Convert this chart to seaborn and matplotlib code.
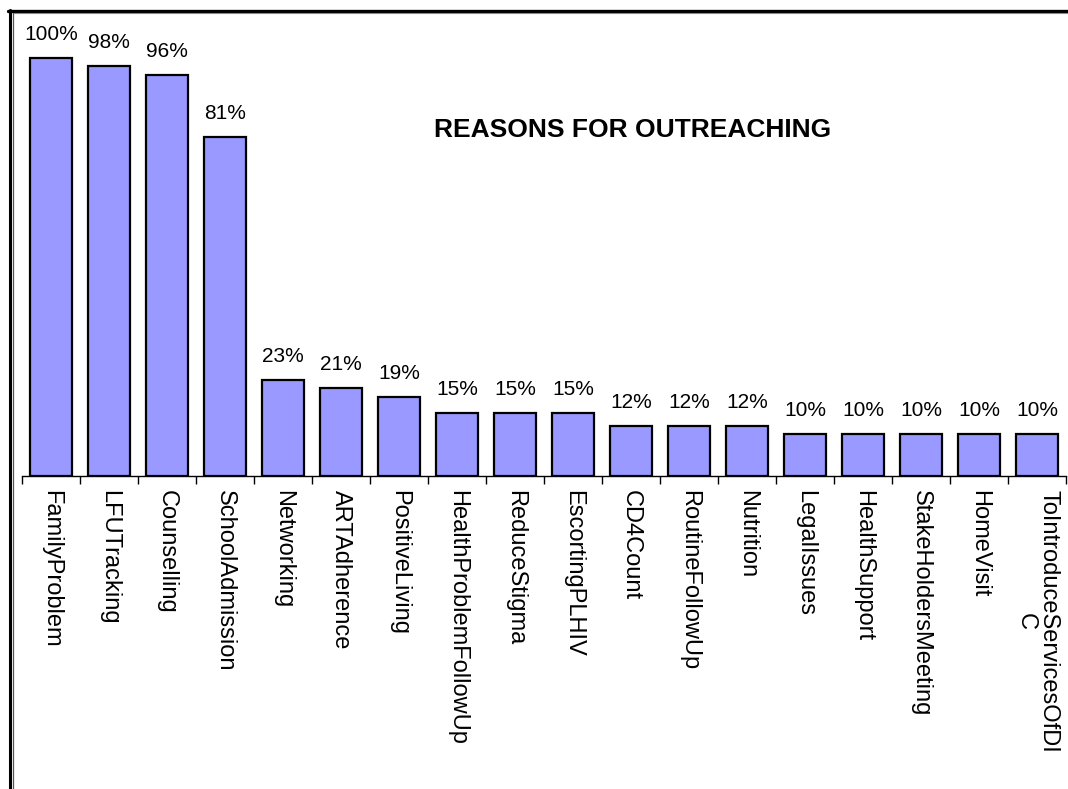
import matplotlib
matplotlib.use("Agg")
import matplotlib.pyplot as plt
import seaborn as sns
import numpy as np
from matplotlib.lines import Line2D

categories = ["FamilyProblem", "LFUTracking", "Counselling", "SchoolAdmission",
              "Networking", "ARTAdherence", "PositiveLiving", "HealthProblemFollowUp",
              "ReduceStigma", "EscortingPLHIV", "CD4Count", "RoutineFollowUp",
              "Nutrition", "LegalIssues", "HealthSupport", "StakeHoldersMeeting",
              "HomeVisit", "ToIntroduceServicesOfDI\nC"]
values = [100, 98, 96, 81, 23, 21, 19, 15, 15, 15, 12, 12, 12, 10, 10, 10, 10, 10]
title = "REASONS FOR OUTREACHING"

sns.set_style("white")
plt.rcParams['font.family'] = ['Liberation Sans', 'DejaVu Sans']
plt.rcParams['text.color'] = 'black'
plt.rcParams['xtick.color'] = 'black'
plt.rcParams['xtick.labelcolor'] = 'black'

W, H = 1068, 789
fig = plt.figure(figsize=(W / 100, H / 100), dpi=100)
ax = fig.add_axes([22 / W, (H - 476) / H, 1044 / W, (476 - 16) / H])

sns.barplot(x=list(range(len(categories))), y=values, color="#9999FF", saturation=1,
            edgecolor="black", linewidth=1.6, width=0.72, ax=ax)

ax.set_xlim(-0.5, len(categories) - 0.5)
ax.set_ylim(0, 110)
for i, v in enumerate(values):
    ax.annotate(f"{v}%", (i, v), xytext=(0, 10), textcoords="offset points",
                ha="center", va="bottom", fontsize=15, color="black")

ax.set_xticks(range(len(categories)))
ax.set_xticklabels(categories, rotation=270, ha="center", va="top",
                   fontsize=17, linespacing=1.05, color="black")
for lbl in ax.get_xticklabels():
    if "\n" in lbl.get_text():
        lbl.set_x(lbl.get_position()[0] - 0.08)
ax.set_xticks(np.arange(-0.5, len(categories), 1.0), minor=True)
ax.tick_params(axis="x", which="major", length=0, pad=10)
ax.tick_params(axis="x", which="minor", length=6, width=1, color="black", direction="out", bottom=True)
ax.set_yticks([])
ax.set_xlabel("")
ax.set_ylabel("")
for s in ["top", "right", "left"]:
    ax.spines[s].set_visible(False)
ax.spines["bottom"].set_color("black")
ax.spines["bottom"].set_linewidth(1)

fig.text(633 / W, 1 - 130 / H, title, ha="center", va="center",
         fontsize=19, fontweight="bold", color="black")

def fy(py):
    return 1 - py / H

fig.add_artist(Line2D([8 / W, 1], [fy(10.5), fy(10.5)], color="black", lw=2.4))
fig.add_artist(Line2D([13 / W, 1], [fy(13), fy(13)], color="#888888", lw=0.8))
fig.add_artist(Line2D([9.5 / W, 9.5 / W], [fy(10), 0], color="black", lw=2.2))
fig.add_artist(Line2D([13 / W, 13 / W], [fy(13), 0], color="#555555", lw=0.9))

fig.savefig("out.png", dpi=100, facecolor="white")
